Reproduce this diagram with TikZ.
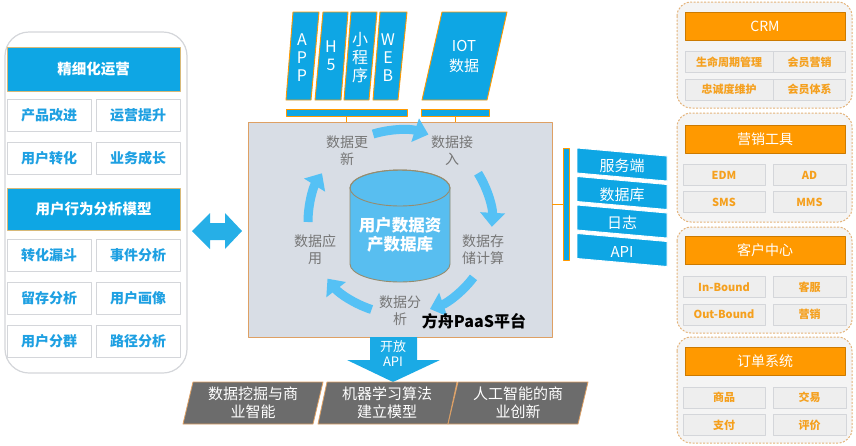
\documentclass[tikz,border=0pt]{standalone}
\usepackage{fontspec}
\setmainfont{Noto Sans CJK SC}
\usetikzlibrary{arrows.meta}

\definecolor{skyblue}{RGB}{14,166,228}
\definecolor{txtblue}{RGB}{30,160,226}
\definecolor{boxgray}{RGB}{212,214,218}
\definecolor{hdrline}{RGB}{215,185,120}
\definecolor{platfill}{RGB}{216,221,229}
\definecolor{platline}{RGB}{222,160,100}
\definecolor{cylfill}{RGB}{88,190,240}
\definecolor{cylline}{RGB}{150,140,110}
\definecolor{cycblue}{RGB}{85,193,245}
\definecolor{orng}{RGB}{255,153,0}
\definecolor{orngtxt}{RGB}{245,160,30}
\definecolor{orngdash}{RGB}{228,178,120}
\definecolor{panelfill}{RGB}{244,244,244}
\definecolor{subfill}{RGB}{238,238,238}
\definecolor{darkgray}{RGB}{108,108,108}
\definecolor{lblgray}{RGB}{118,118,118}

\newcommand\fs[2]{\fontsize{#1}{#2}\selectfont}

\tikzset{
  leftbox/.style={draw=boxgray, fill=white, line width=0.8, minimum width=84, minimum height=32, inner sep=0, text=txtblue, font=\fs{14}{16}\bfseries},
  lefthdr/.style={draw=hdrline, fill=skyblue, line width=0.8, minimum width=173, inner sep=0, text=white, font=\fs{14.5}{16}\bfseries},
  chan/.style={fill=skyblue, draw=orng, line width=0.9},
  chantext/.style={text=white, align=center, inner sep=0, font=\fs{16}{18}},
  cyc/.style={draw=cycblue, line width=9, -{Triangle[length=14pt,width=24pt]}},
  cyctext/.style={text=lblgray, align=center, inner sep=0, font=\fs{14}{17}},
  rpanel/.style={draw=orngdash, fill=panelfill, line width=1, dash pattern=on 2pt off 1.5pt, rounded corners=14},
  rhdr/.style={fill=orng, draw=orng!80!black, line width=0.6, minimum width=160, minimum height=28, inner sep=0, text=white, font=\fs{14}{16}},
  rsub/.style={fill=subfill, draw=boxgray, line width=0.8, minimum height=21, inner sep=0, text=orngtxt, font=\fs{11}{13}\bfseries},
  bottom/.style={fill=darkgray, draw=platline, line width=0.8},
  bottext/.style={text=white, align=center, inner sep=0, font=\fs{15}{18}}
}

\begin{document}
\begin{tikzpicture}[x=1pt,y=-1pt,line join=round]
\useasboundingbox (0,0) rectangle (856,445);

% left panel
\draw[draw=boxgray, fill=white, line width=1.2, rounded corners=24] (5,32) rectangle (187,373);
\node[lefthdr, minimum height=44] (fine) at (93.5,69) {精细化运营};
\node[leftbox] (prod) at (49,115) {产品改进};
\node[leftbox] (ops) at (138,115) {运营提升};
\node[leftbox] (conv) at (49,158) {用户转化};
\node[leftbox] (grow) at (138,158) {业务成长};
\node[lefthdr, minimum height=42] (model) at (93.5,209) {用户行为分析模型};
\node[leftbox] (funnel) at (49,255.5) {转化漏斗};
\node[leftbox] (event) at (138,255.5) {事件分析};
\node[leftbox] (retain) at (49,298) {留存分析};
\node[leftbox] (persona) at (138,298) {用户画像};
\node[leftbox] (group) at (49,341) {用户分群};
\node[leftbox] (path) at (138,341) {路径分析};

% double arrow
\fill[skyblue!90!white] (192,231) -- (210,213) -- (210,223) -- (225,223) -- (225,213) -- (242,231)
  -- (225,249) -- (225,240) -- (210,240) -- (210,249) -- cycle;

% platform
\node[draw=platline, fill=platfill, line width=0.9, minimum width=304, minimum height=215, inner sep=0] (plat) at (400,229.5) {};

% channels on top
\draw[chan] (286,100) -- (293,12) -- (319,12) -- (311,100) -- cycle;
\draw[chan] (315,100) -- (323,12) -- (348,12) -- (341,100) -- cycle;
\draw[chan] (344,100) -- (351,12) -- (377,12) -- (369,100) -- cycle;
\draw[chan] (373,100) -- (380,12) -- (407,12) -- (398,100) -- cycle;
\draw[chan] (422,100) -- (442,12) -- (507,12) -- (487,100) -- cycle;
\node[chantext] (app) at (302,58) {A\\P\\P};
\node[chantext] (h5) at (331,56) {H\\5};
\node[chantext] (mini) at (360,58) {小\\程\\序};
\node[chantext] (web) at (388,58) {W\\E\\B};
\node[chantext, font=\fs{15}{20}] (iot) at (464,57) {IOT\\数据};
\node[chan, line width=0.7, minimum width=121, minimum height=7, inner sep=0] (bar1) at (346.5,112.5) {};
\node[chan, line width=0.7, minimum width=68, minimum height=7, inner sep=0] (bar2) at (455,112.5) {};
\draw[orng, line width=1] (bar1.south) -- (bar1.south |- plat.north);
\draw[orng, line width=1] (bar2.south) -- (bar2.south |- plat.north);

% database cylinder
\filldraw[fill=cylfill, draw=cylline, line width=0.9] (350,188) -- (350,264)
  arc[start angle=180, end angle=0, x radius=50, y radius=18] -- (450,188)
  arc[start angle=0, end angle=-180, x radius=50, y radius=18] -- cycle;
\draw[cylline, line width=0.9] (400,188) ellipse [x radius=50, y radius=18];
\node[text=white, align=center, inner sep=0, font=\fs{16.5}{19}\bfseries] (db) at (400,235) {用户数据资\\产数据库};

% cycle
\coordinate (cen) at (400,222);
\draw[cyc] ([shift={(-107:92)}]cen) arc[start angle=-107, end angle=-72, radius=92];
\draw[cyc] ([shift={(-32:92)}]cen) arc[start angle=-32, end angle=3, radius=92];
\draw[cyc] ([shift={(37:92)}]cen) arc[start angle=37, end angle=71, radius=92];
\draw[cyc] ([shift={(108:92)}]cen) arc[start angle=108, end angle=142, radius=92];
\draw[cyc] ([shift={(180:92)}]cen) arc[start angle=180, end angle=212, radius=92];
\node[cyctext] (upd) at (347,151) {数据更\\新};
\node[cyctext] (acc) at (452,151) {数据接\\入};
\node[cyctext] (sto) at (483,250) {数据存\\储计算};
\node[cyctext] (ana) at (400,311) {数据分\\析};
\node[cyctext] (use) at (315,250) {数据应\\用};
\node[inner sep=0, font=\fs{16}{18}\bfseries] (paas) at (474,321) {方舟PaaS平台};

% sources on the right
\node[chan, minimum width=6, minimum height=112, inner sep=0] (brk) at (566,204) {};
\draw[orng, line width=1] (brk.west) -- (brk.west -| plat.east);
\draw[chan, draw=white] (577,148) -- (667,156) -- (667,181) -- (577,173) -- cycle;
\draw[chan, draw=white] (577,176.5) -- (667,184.5) -- (667,209.5) -- (577,201.5) -- cycle;
\draw[chan, draw=white] (577,205) -- (667,213) -- (667,238) -- (577,230) -- cycle;
\draw[chan, draw=white] (577,233.5) -- (667,241.5) -- (667,266.5) -- (577,258.5) -- cycle;
\node[chantext, font=\fs{15}{17}] (server) at (622,166) {服务端};
\node[chantext, font=\fs{15}{17}] (dbs) at (622,194.5) {数据库};
\node[chantext, font=\fs{15}{17}] (logs) at (622,223) {日志};
\node[chantext, font=\fs{15}{17}] (api) at (622,251.5) {API};

% open API
\fill[skyblue!95!white] (370,337) -- (417,337) -- (417,360) -- (440,360) -- (393,382) -- (347,360) -- (370,360) -- cycle;
\node[text=white, align=center, inner sep=0, font=\fs{13}{15}] (open) at (393,354) {开放\\API};

% outputs
\draw[bottom] (193,382) -- (323,382) -- (313,424) -- (183,424) -- cycle;
\draw[bottom] (327,382) -- (457,382) -- (448,424) -- (318,424) -- cycle;
\draw[bottom] (458,382) -- (588,382) -- (578,424) -- (448,424) -- cycle;
\node[bottext] (mining) at (253,403) {数据挖掘与商\\业智能};
\node[bottext] (ml) at (387,403) {机器学习算法\\建立模型};
\node[bottext] (ai) at (518,403) {人工智能的商\\业创新};

% CRM
\draw[rpanel] (677,2) rectangle (852,108);
\node[rhdr] (crm) at (765,26) {CRM};
\node[rsub, minimum width=88] (life) at (729,62) {生命周期管理};
\node[rsub, minimum width=72] (mkt) at (809.5,62) {会员营销};
\node[rsub, minimum width=88] (loyal) at (729,89.5) {忠诚度维护};
\node[rsub, minimum width=72] (member) at (809.5,89.5) {会员体系};

% marketing tools
\draw[rpanel] (677,113) rectangle (852,222);
\node[rhdr] (tools) at (765,139) {营销工具};
\node[rsub, minimum width=82] (edm) at (724,175) {EDM};
\node[rsub, minimum width=73] (ad) at (809.5,175) {AD};
\node[rsub, minimum width=82] (sms) at (724,202) {SMS};
\node[rsub, minimum width=73] (mms) at (809.5,202) {MMS};

% customer center
\draw[rpanel] (677,227) rectangle (852,333);
\node[rhdr] (center) at (765,250.5) {客户中心};
\node[rsub, minimum width=82] (inb) at (724,287) {In-Bound};
\node[rsub, minimum width=73] (svc) at (809.5,287) {客服};
\node[rsub, minimum width=82] (outb) at (724,314.5) {Out-Bound};
\node[rsub, minimum width=73] (sale) at (809.5,314.5) {营销};

% orders
\draw[rpanel] (677,337) rectangle (852,443);
\node[rhdr] (order) at (765,361.5) {订单系统};
\node[rsub, minimum width=82] (goods) at (724,397.5) {商品};
\node[rsub, minimum width=73] (trade) at (809.5,397.5) {交易};
\node[rsub, minimum width=82] (pay) at (724,425) {支付};
\node[rsub, minimum width=73] (review) at (809.5,425) {评价};
\end{tikzpicture}
\end{document}
